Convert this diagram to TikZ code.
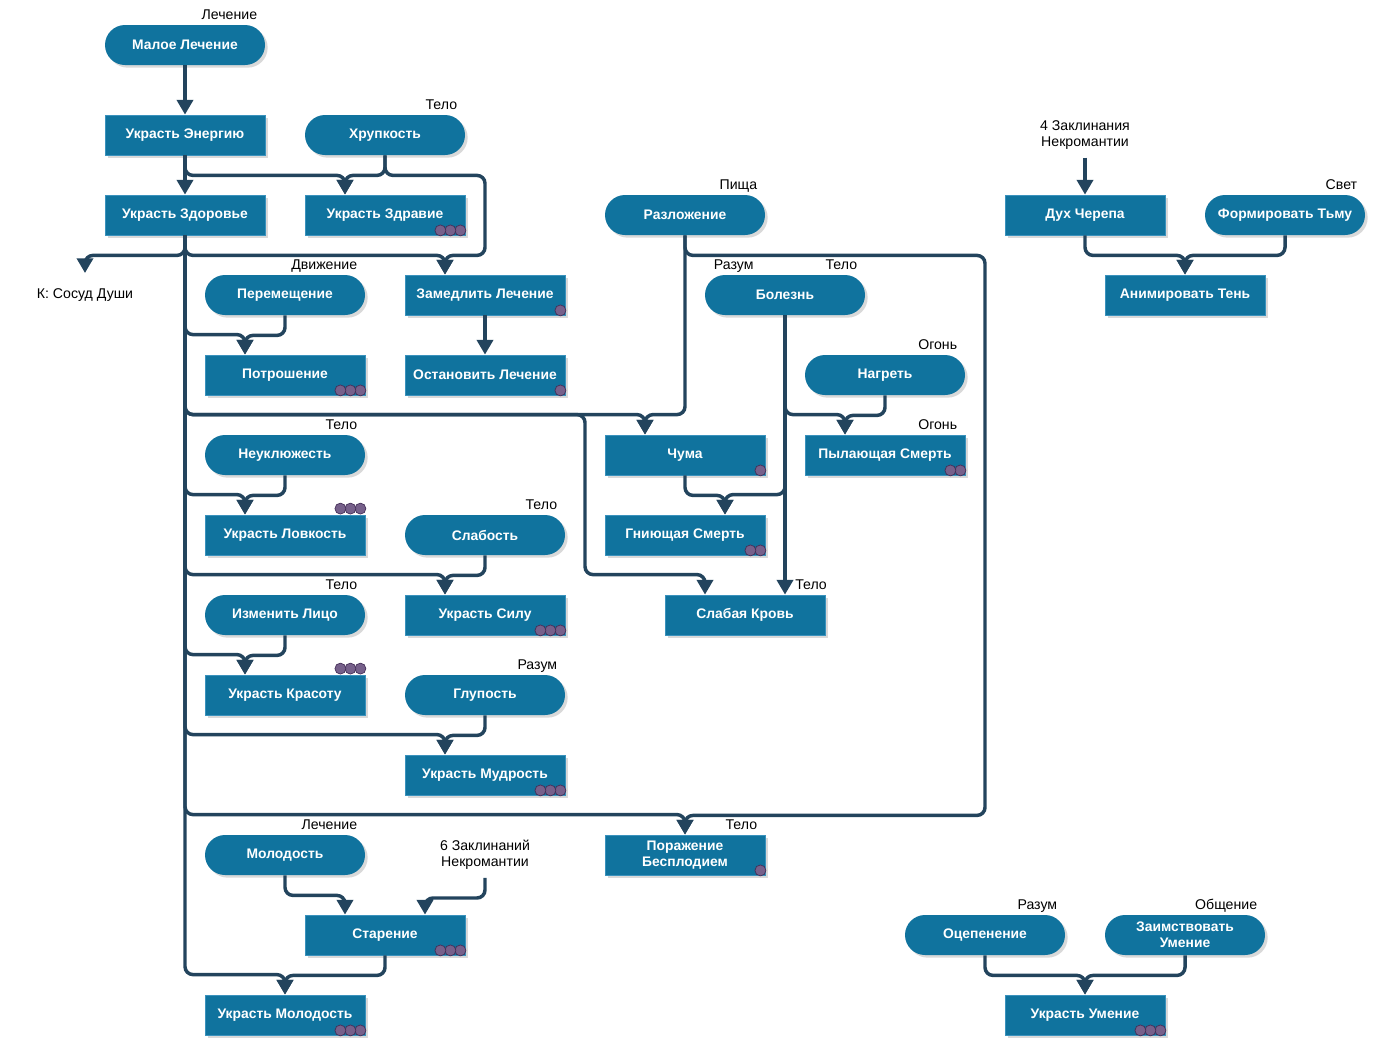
\documentclass[tikz,border=0pt]{standalone}
\usepackage{fontspec}
\setmainfont{Liberation Sans}
\usetikzlibrary{arrows.meta,calc,shadows}

\definecolor{boxblue}{HTML}{10739E}
\definecolor{boxedge}{HTML}{3A92BD}
\definecolor{linkblue}{HTML}{23445D}
\definecolor{pipfill}{HTML}{76608A}
\definecolor{pipedge}{HTML}{432D57}

\tikzset{
    spell/.style={rectangle, fill=boxblue, draw=boxedge, line width=0.6pt,
        minimum width=120pt, minimum height=30pt, inner sep=0pt, align=center,
        text=white, font=\bfseries\fontsize{10.4}{12}\selectfont,
        drop shadow={shadow xshift=2pt, shadow yshift=-2pt, opacity=0.3}},
    base/.style={spell, draw=none, rounded corners=15pt},
    note/.style={inner sep=0pt, align=center, text=black,
        font=\fontsize{10.6}{12}\selectfont},
    school/.style={note},
    link/.style={draw=linkblue, line width=2.6pt, rounded corners=6pt,
        -{Triangle[width=12pt,length=11pt]}},
    pip/.style={fill=pipfill, draw=pipedge, line width=0.5pt}
}

\newcommand{\pips}[3]{\foreach \k in {1,...,#2}{\draw[pip] ($(#1)+({5-10*\k},#3)$) circle (5.5);}}
\newcommand{\school}[2]{\node[school, anchor=base east] (#1-s) at ($(#1.north east)+(-8,-5.5)$) {#2};}

\begin{document}
\begin{tikzpicture}[x=0.75pt, y=-0.75pt]
    \useasboundingbox (0,0) rectangle (1384,1054);

    \node[base] (heal) at (185,45) {Малое Лечение};
    \node[spell] (energy) at (185,135) {Украсть Энергию};
    \node[base] (brittle) at (385,135) {Хрупкость};
    \node[spell] (health) at (185,215) {Украсть Здоровье};
    \node[spell] (vigor) at (385,215) {Украсть Здравие};
    \node[base] (decay) at (685,215) {Разложение};
    \node[note, inner ysep=6pt] (incant4) at (1085,135) {4 Заклинания\\Некромантии};
    \node[spell] (skull) at (1085,215) {Дух Черепа};
    \node[base] (dark) at (1285,215) {Формировать Тьму};
    \node[spell] (shade) at (1185,295) {Анимировать Тень};
    \node[note] (jar) at (85,295) {К: Сосуд Души};
    \coordinate (jarin) at (85,273);
    \node[base] (move) at (285,295) {Перемещение};
    \node[spell] (slowheal) at (485,295) {Замедлить Лечение};
    \node[base] (disease) at (785,295) {Болезнь};
    \node[spell] (gut) at (285,375) {Потрошение};
    \node[spell] (stopheal) at (485,375) {Остановить Лечение};
    \node[base] (heat) at (885,375) {Нагреть};
    \node[base] (clumsy) at (285,455) {Неуклюжесть};
    \node[spell] (plague) at (685,455) {Чума};
    \node[spell] (burn) at (885,455) {Пылающая Смерть};
    \node[spell] (dex) at (285,535) {Украсть Ловкость};
    \node[base] (weak) at (485,535) {Слабость};
    \node[spell] (rot) at (685,535) {Гниющая Смерть};
    \node[base] (face) at (285,615) {Изменить Лицо};
    \node[spell] (str) at (485,615) {Украсть Силу};
    \node[spell] (blood) at (745,615) {Слабая Кровь};
    \node[spell] (beauty) at (285,695) {Украсть Красоту};
    \node[base] (dumb) at (485,695) {Глупость};
    \node[spell] (wis) at (485,775) {Украсть Мудрость};
    \node[base] (youth) at (285,855) {Молодость};
    \node[note, inner ysep=6pt] (incant6) at (485,855) {6 Заклинаний\\Некромантии};
    \node[spell] (barren) at (685,855) {Поражение\\Бесплодием};
    \node[spell] (age) at (385,935) {Старение};
    \node[base] (numb) at (985,935) {Оцепенение};
    \node[base] (borrow) at (1185,935) {Заимствовать\\Умение};
    \node[spell] (stealyouth) at (285,1015) {Украсть Молодость};
    \node[spell] (skill) at (1085,1015) {Украсть Умение};

    \school{heal}{Лечение}
    \school{brittle}{Тело}
    \school{decay}{Пища}
    \school{dark}{Свет}
    \school{move}{Движение}
    \school{disease}{Тело}
    \node[school, anchor=base west] (disease-r) at ($(disease.north west)+(9,-5.5)$) {Разум};
    \school{heat}{Огонь}
    \school{clumsy}{Тело}
    \school{burn}{Огонь}
    \school{weak}{Тело}
    \school{face}{Тело}
    \node[school, anchor=base west] (blood-s) at ($(blood.north)+(50,-5.5)$) {Тело};
    \school{dumb}{Разум}
    \school{youth}{Лечение}
    \school{barren}{Тело}
    \school{numb}{Разум}
    \school{borrow}{Общение}

    \pips{vigor.south east}{3}{-5}
    \pips{slowheal.south east}{1}{-5}
    \pips{gut.south east}{3}{-5}
    \pips{stopheal.south east}{1}{-5}
    \pips{plague.south east}{1}{-5}
    \pips{burn.south east}{2}{-5}
    \pips{dex.north east}{3}{-6}
    \pips{rot.south east}{2}{-5}
    \pips{str.south east}{3}{-5}
    \pips{beauty.north east}{3}{-6}
    \pips{wis.south east}{3}{-5}
    \pips{barren.south east}{1}{-5}
    \pips{age.south east}{3}{-5}
    \pips{stealyouth.south east}{3}{-5}
    \pips{skill.south east}{3}{-5}

    \draw[link] (heal.south) -- (energy.north);
    \draw[link] (energy.south) -- (health.north);
    \draw[link] (energy.south) -- ++(0,20) -| ($(vigor.north)+(-40,0)$);
    \draw[link] (brittle.south) -- ++(0,20) -| ($(vigor.north)+(-40,0)$);
    \draw[link] (brittle.south) -- ++(0,20) -| ++(100,80) -| ($(slowheal.north)+(-40,0)$);
    \draw[link] (health.south) -- ++(0,20) -| ($(slowheal.north)+(-40,0)$);
    \draw[link] (health.south) -- ++(0,20) -| (jarin);
    \draw[link] (slowheal.south) -- (stopheal.north);

    \draw[link] (health.south) |- ($(gut.north)+(-40,-20)$) -- ++(0,20);
    \draw[link] (move.south) -- ++(0,20) -| ($(gut.north)+(-40,0)$);
    \draw[link] (health.south) |- ($(plague.north)+(-40,-20)$) -- ++(0,20);
    \draw[link] (decay.south) |- ($(plague.north)+(-40,-20)$) -- ++(0,20);
    \draw[link] (decay.south) -- ++(0,20) -| ++(300,560) -| (barren.north);
    \draw[link] (health.south) |- ($(barren.north)+(0,-20)$) -- (barren.north);
    \draw[link] (health.south) |- ($(plague.north)+(-100,-20)$) |- ($(blood.north)+(-40,-20)$) -- ++(0,20);
    \draw[link] (disease.south) -- (disease.south |- blood.north);
    \draw[link] (disease.south) |- ($(rot.north)+(40,-20)$) -- ++(0,20);
    \draw[link] (plague.south) -- ++(0,20) -| ($(rot.north)+(40,0)$);
    \draw[link] (disease.south) |- ($(burn.north)+(-40,-20)$) -- ++(0,20);
    \draw[link] (heat.south) -- ++(0,20) -| ($(burn.north)+(-40,0)$);

    \draw[link] (health.south) |- ($(dex.north)+(-40,-20)$) -- ++(0,20);
    \draw[link] (clumsy.south) -- ++(0,20) -| ($(dex.north)+(-40,0)$);
    \draw[link] (health.south) |- ($(str.north)+(-40,-20)$) -- ++(0,20);
    \draw[link] (weak.south) -- ++(0,20) -| ($(str.north)+(-40,0)$);
    \draw[link] (health.south) |- ($(beauty.north)+(-40,-20)$) -- ++(0,20);
    \draw[link] (face.south) -- ++(0,20) -| ($(beauty.north)+(-40,0)$);
    \draw[link] (health.south) |- ($(wis.north)+(-40,-20)$) -- ++(0,20);
    \draw[link] (dumb.south) -- ++(0,20) -| ($(wis.north)+(-40,0)$);

    \draw[link] (health.south) |- ($(stealyouth.north)+(0,-20)$) -- (stealyouth.north);
    \draw[link] (age.south) -- ++(0,20) -| (stealyouth.north);
    \draw[link] (youth.south) -- ++(0,20) -| ($(age.north)+(-40,0)$);
    \draw[link] (incant6.south) -- ++(0,20) -| ($(age.north)+(40,0)$);

    \draw[link] (incant4.south) -- (skull.north);
    \draw[link] (skull.south) -- ++(0,20) -| (shade.north);
    \draw[link] (dark.south) -- ++(0,20) -| (shade.north);
    \draw[link] (numb.south) -- ++(0,20) -| (skill.north);
    \draw[link] (borrow.south) -- ++(0,20) -| (skill.north);
\end{tikzpicture}
\end{document}
